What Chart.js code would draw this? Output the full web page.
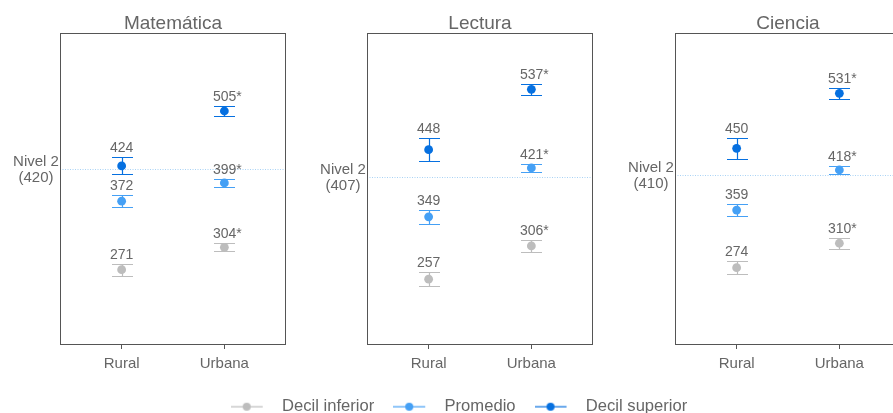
<!DOCTYPE html>
<html lang="es">
<head>
<meta charset="UTF-8">
<title>Puntajes por zona</title>
<script src="https://cdn.jsdelivr.net/npm/chart.js"></script>
<style>
    body {
        margin: 0;
        background: #fff;
        overflow: hidden;
        font-family: "Liberation Sans", Arial, sans-serif;
    }
    #wrap {
        position: relative;
        width: 893px;
        height: 413px;
        overflow: hidden;
    }
    #wrap canvas {
        position: absolute;
        top: 0;
    }
</style>
</head>
<body>
<div id="wrap">
    <canvas id="legendChart" width="893" height="413" style="left:0; top:12px"></canvas>
    <canvas id="chart0" width="300" height="380" style="left:0"></canvas>
    <canvas id="chart1" width="300" height="380" style="left:307px"></canvas>
    <canvas id="chart2" width="300" height="380" style="left:615px"></canvas>
</div>
<script>
const subjects = ['Matemática', 'Lectura', 'Ciencia'];
const zones = ['Rural', 'Urbana'];
const zoneMarks = ['', '*'];          // * diferencia significativa
const nivel2 = [420, 407, 410];

// one row per subject: [Rural, Urbana]
const decilInferior = [[271, 304], [257, 306], [274, 310]];
const promedio      = [[372, 399], [349, 421], [359, 418]];
const decilSuperior = [[424, 505], [448, 537], [450, 531]];

// half width of each interval
const errInferior = [[9, 6], [10.5, 9], [10, 8]];
const errPromedio = [[8.5, 5.5], [10, 6.5], [9, 6]];
const errSuperior = [[12.5, 7], [17, 8], [15.5, 8.5]];

const seriesNames = ['Decil inferior', 'Promedio', 'Decil superior'];
const seriesColors = ['#bdbdbd', '#45a0f5', '#0670e0'];

const FONT = '"Liberation Sans", Arial, sans-serif';
const textColor = '#666';

// reference line, error bars, frame and value labels
const panelPlugin = {
    id: 'panel',
    beforeDatasetsDraw(chart, args, opts) {
        const {ctx, chartArea: a, scales: {x, y}} = chart;
        ctx.save();

        const ry = Math.round(y.getPixelForValue(opts.nivel)) + 0.5;
        ctx.strokeStyle = '#a9d2f5';
        ctx.lineWidth = 1;
        ctx.setLineDash([1, 1.5]);
        ctx.beginPath();
        ctx.moveTo(a.left, ry);
        ctx.lineTo(a.right, ry);
        ctx.stroke();
        ctx.setLineDash([]);

        ctx.fillStyle = textColor;
        ctx.font = '15px ' + FONT;
        ctx.textAlign = 'center';
        ctx.textBaseline = 'middle';
        ctx.fillText('Nivel 2', a.left - 24, ry - 8);
        ctx.fillText('(' + opts.nivel + ')', a.left - 24, ry + 8);

        chart.data.datasets.forEach(ds => {
            ctx.strokeStyle = ds.borderColor;
            ctx.lineWidth = 1.2;
            ds.data.forEach((p, j) => {
                const px = Math.round(x.getPixelForValue(p.x)) + 0.5;
                const top = Math.round(y.getPixelForValue(p.y + ds.errors[j])) + 0.5;
                const bot = Math.round(y.getPixelForValue(p.y - ds.errors[j])) + 0.5;
                ctx.beginPath();
                ctx.moveTo(px, top); ctx.lineTo(px, bot);
                ctx.moveTo(px - 10.5, top); ctx.lineTo(px + 10.5, top);
                ctx.moveTo(px - 10.5, bot); ctx.lineTo(px + 10.5, bot);
                ctx.stroke();
            });
        });

        ctx.strokeStyle = '#555';
        ctx.lineWidth = 1;
        ctx.strokeRect(a.left + 0.5, a.top + 0.5, a.width - 1, a.height - 1);
        ctx.restore();
    },
    afterDatasetsDraw(chart) {
        const {ctx, scales: {x, y}} = chart;
        ctx.save();
        ctx.fillStyle = textColor;
        ctx.font = '14px ' + FONT;
        ctx.textAlign = 'center';
        ctx.textBaseline = 'alphabetic';
        chart.data.datasets.forEach(ds => {
            ds.data.forEach((p, j) => {
                const px = x.getPixelForValue(p.x);
                const top = y.getPixelForValue(p.y + ds.errors[j]);
                ctx.fillText(p.y + zoneMarks[j], px + (zoneMarks[j] ? 3 : 0), top - 5);
            });
        });
        ctx.restore();
    }
};

subjects.forEach((subject, k) => {
    const values = [decilInferior[k], promedio[k], decilSuperior[k]];
    const errs = [errInferior[k], errPromedio[k], errSuperior[k]];
    new Chart(document.getElementById('chart' + k), {
        type: 'line',
        data: {
            datasets: seriesNames.map((name, i) => ({
                label: name,
                data: values[i].map((v, j) => ({x: j + 1, y: v})),
                errors: errs[i],
                showLine: false,
                borderColor: seriesColors[i],
                backgroundColor: seriesColors[i],
                pointBackgroundColor: seriesColors[i],
                pointBorderWidth: 0,
                pointRadius: 4.4
            }))
        },
        options: {
            responsive: false,
            animation: false,
            events: [],
            layout: {padding: {left: 60, right: 14, top: 0, bottom: 0}},
            scales: {
                x: {
                    type: 'linear',
                    min: 0.4,
                    max: 2.6,
                    afterBuildTicks: s => { s.ticks = zones.map((z, j) => ({value: j + 1})); },
                    afterFit: s => { s.height = 35; },
                    ticks: {
                        callback: v => zones[v - 1],
                        color: textColor,
                        font: {family: FONT, size: 15},
                        padding: 6,
                        maxRotation: 0,
                        autoSkip: false
                    },
                    grid: {drawOnChartArea: false, tickLength: 4, color: '#555'},
                    border: {display: false}
                },
                y: {display: false, min: 160, max: 620}
            },
            plugins: {
                legend: {display: false},
                tooltip: {enabled: false},
                title: {
                    display: true,
                    text: subject,
                    color: textColor,
                    font: {family: FONT, size: 19, weight: 'normal', lineHeight: 1},
                    padding: {top: 14, bottom: 0}
                },
                panel: {nivel: nivel2[k]}
            }
        },
        plugins: [panelPlugin]
    });
});

// legend marker: short line with a dot in the middle
function legendIcon(color) {
    const c = document.createElement('canvas');
    c.width = 43;
    c.height = 10;
    const g = c.getContext('2d');
    g.strokeStyle = color;
    g.lineWidth = 1.2;
    g.beginPath();
    g.moveTo(0, 5);
    g.lineTo(32, 5);
    g.stroke();
    g.fillStyle = color;
    g.beginPath();
    g.arc(16, 5, 4, 0, Math.PI * 2);
    g.fill();
    return c;
}

new Chart(document.getElementById('legendChart'), {
    type: 'line',
    data: {
        datasets: seriesNames.map((name, i) => ({
            label: name,
            data: [],
            borderColor: seriesColors[i],
            backgroundColor: seriesColors[i]
        }))
    },
    options: {
        responsive: false,
        animation: false,
        events: [],
        layout: {padding: {left: 25, bottom: 0}},
        scales: {x: {display: false}, y: {display: false}},
        plugins: {
            tooltip: {enabled: false},
            legend: {
                position: 'bottom',
                labels: {
                    usePointStyle: true,
                    pointStyleWidth: 43,
                    padding: 19,
                    color: textColor,
                    font: {family: FONT, size: 16.6},
                    generateLabels: chart => chart.data.datasets.map((ds, i) => ({
                        text: ds.label,
                        fontColor: textColor,
                        pointStyle: legendIcon(ds.borderColor),
                        fillStyle: ds.borderColor,
                        strokeStyle: ds.borderColor,
                        lineWidth: 0,
                        hidden: false,
                        datasetIndex: i
                    }))
                }
            }
        }
    }
});
</script>
</body>
</html>
